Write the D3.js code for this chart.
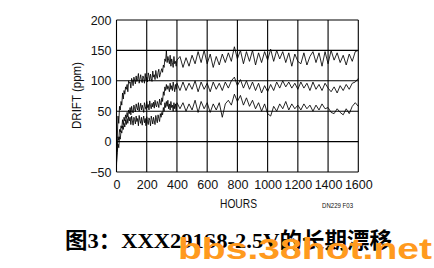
<!DOCTYPE html>
<html><head><meta charset="utf-8">
<script src="https://cdn.jsdelivr.net/npm/d3@7"></script>
<style>body{margin:0;background:#fff}svg{display:block}</style>
</head><body>
<svg id="c" width="434" height="268"></svg>
<script>
const hours = [0,5,10,15,20,25,30,35,40,45,50,55,60,65,70,75,80,85,90,95,100,105,110,115,120,125,130,135,140,145,150,155,160,165,170,175,180,185,190,195,200,205,210,215,220,225,230,235,240,245,250,255,260,265,270,275,280,285,290,295,300,305,310,315,320,325,330,335,340,345,350,355,360,365,370,375,380,385,390,395,400,
420,440,460,480,500,520,540,560,580,600,620,640,660,680,700,720,740,760,780,800,820,840,860,880,900,920,940,960,980,1000,1020,1040,1060,1080,1100,1120,1140,1160,1180,1200,1220,1240,1260,1280,1300,1320,1340,1360,1380,1400,1420,1440,1460,1480,1500,1520,1540,1560,1580,1600];
const seriesA = [-40,5,42,30,58,52,66,60,80,70,84,78,90,86,94,82,100,96,98,88,104,100,92,106,101,95,108,99,104,112,96,103,110,100,97,108,104,96,112,101,106,98,113,108,100,111,104,99,116,106,110,102,117,108,104,114,119,106,111,116,120,114,126,122,136,132,150,130,140,134,128,142,124,136,130,122,140,128,132,124,134,
140,122,138,124,142,128,148,130,150,128,144,122,140,126,144,130,146,132,156,136,150,128,148,132,150,126,146,130,148,134,152,132,150,136,148,130,146,124,144,132,128,146,126,140,148,130,146,124,148,128,150,134,146,130,142,126,144,132,148,150];
const seriesB = [-22,-8,8,2,20,16,26,22,36,28,40,34,44,38,48,40,52,46,56,44,58,50,47,60,54,49,62,56,52,64,50,57,63,52,60,55,48,64,58,53,66,56,61,52,67,58,54,63,57,65,55,68,60,57,66,62,56,70,64,60,72,66,82,76,90,84,94,86,92,88,82,96,86,92,84,98,90,82,94,86,96,
84,98,84,96,86,100,82,98,86,96,82,98,86,96,84,98,88,100,106,92,102,88,100,86,98,84,96,80,92,82,94,84,98,88,100,90,98,88,96,86,98,88,96,84,98,86,94,84,96,88,82,90,80,92,84,94,86,96,98,104];
const seriesC = [-35,-18,-4,-10,8,4,18,14,26,20,30,24,36,28,38,30,41,34,40,28,42,34,27,40,36,29,42,33,38,26,43,35,30,40,27,36,42,31,38,26,41,33,28,39,35,26,42,36,29,40,34,28,43,36,31,44,38,33,46,40,48,44,56,50,64,56,66,58,68,54,62,52,66,56,60,50,64,54,62,50,64,
54,64,50,62,52,68,48,66,54,64,48,62,52,64,40,62,68,60,78,66,76,60,72,58,68,54,64,50,62,46,42,58,50,62,54,66,52,62,54,60,52,62,54,60,50,60,52,62,54,56,48,46,54,48,44,54,46,58,64,58];
const xTicks = [0,200,400,600,800,1000,1200,1400,1600];
const yTicks = [-50,0,50,100,150,200];
const xTitle = "HOURS";
const yTitle = "DRIFT (ppm)";
const noteText = "DN229 F03";
const captionText = "图3：XXX291S8-2.5V的长期漂移";
const watermarkText = "bbs.38hot.net";

const svg = d3.select("#c");
const m = {l:116.5, r:358.3, t:20, b:172};
const x = d3.scaleLinear().domain([0,1600]).range([m.l, m.r]);
const y = d3.scaleLinear().domain([-50,200]).range([m.b, m.t]);
const numFont = "'Liberation Sans', Arial, sans-serif";

// grid
const g = svg.append("g");
g.selectAll("line.v").data(xTicks).join("line")
  .attr("x1", d=>x(d)).attr("x2", d=>x(d)).attr("y1", m.t).attr("y2", m.b)
  .attr("stroke","#000").attr("stroke-width",1.1);
g.selectAll("line.h").data(yTicks).join("line")
  .attr("y1", d=>y(d)).attr("y2", d=>y(d)).attr("x1", m.l).attr("x2", m.r)
  .attr("stroke","#000").attr("stroke-width",1.1);

// series
const line = d3.line().x((d,i)=>x(hours[i])).y(d=>y(d));
[seriesA, seriesB, seriesC].forEach(s=>{
  svg.append("path").datum(s).attr("d", line)
    .attr("fill","none").attr("stroke","#000").attr("stroke-width",0.85)
    .attr("stroke-linejoin","miter");
});

// axes
const xAxis = d3.axisBottom(x).tickValues(xTicks).tickSize(0).tickPadding(8).tickFormat(d3.format("d"));
const ax = svg.append("g").attr("transform",`translate(0,${m.b})`).call(xAxis);
ax.select(".domain").remove();
ax.selectAll("text").attr("font-family",numFont).attr("font-size",12.5).attr("fill","#111");
const yAxis = d3.axisLeft(y).tickValues(yTicks).tickSize(0).tickPadding(5)
  .tickFormat(d=> d<0 ? "\u2212"+Math.abs(d) : d);
const ay = svg.append("g").attr("transform",`translate(${m.l},0)`).call(yAxis);
ay.select(".domain").remove();
ay.selectAll("text").attr("font-family",numFont).attr("font-size",12.5).attr("fill","#111");

// titles
svg.append("text").attr("x",220).attr("y",207.5)
  .attr("font-family",numFont).attr("font-size",13).attr("fill","#111")
  .attr("textLength",37).attr("lengthAdjust","spacingAndGlyphs").text(xTitle);
svg.append("text").attr("transform","translate(81,129) rotate(-90)")
  .attr("font-family",numFont).attr("font-size",13).attr("fill","#111")
  .attr("textLength",67).attr("lengthAdjust","spacingAndGlyphs").text(yTitle);
svg.append("text").attr("x",322).attr("y",208).attr("font-family",numFont).attr("font-size",7).attr("fill","#111")
  .attr("textLength",31).attr("lengthAdjust","spacingAndGlyphs").text(noteText);

// caption
svg.append("text").attr("x",65).attr("y",248).attr("font-family","'Liberation Serif','Noto Sans CJK SC',serif")
  .attr("font-weight","bold").attr("font-size",22).attr("fill","#000")
  .attr("textLength",327).attr("lengthAdjust","spacingAndGlyphs").text(captionText);

// watermark
svg.append("text").attr("x",178).attr("y",259).attr("font-family","'Liberation Sans',Arial,sans-serif")
  .attr("font-weight","bold").attr("font-size",29).attr("fill","#FF9A1E")
  .attr("textLength",254).attr("lengthAdjust","spacingAndGlyphs").text(watermarkText);
</script>
</body></html>
